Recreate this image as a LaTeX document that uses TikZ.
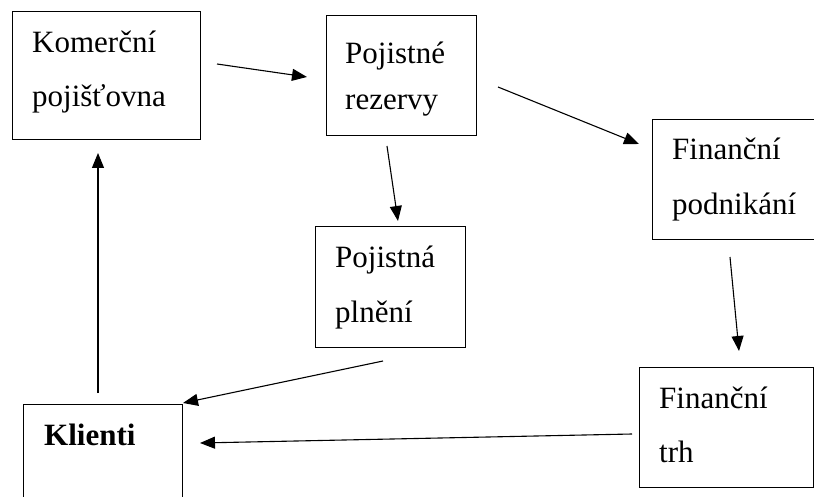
\documentclass[tikz,border=0pt]{standalone}
\usepackage{fontspec}
\setmainfont{Liberation Serif}
\usetikzlibrary{arrows.meta}
\begin{document}
\begin{tikzpicture}[x=1pt,y=-1pt,
  boxline/.style={draw=black,line width=1pt},
  lbl/.style={anchor=base west,inner sep=0pt,font=\fontsize{31}{31}\selectfont},
  conn/.style={draw=black,line width=1.1pt,-{Triangle[length=15pt,width=12pt]}}]
\useasboundingbox (0,0) rectangle (814,497);
\clip (0,0) rectangle (814,497);
% boxes
\path[boxline] (12,12) rectangle (200,140);
\path[boxline] (326,16) rectangle (476,136);
\path[boxline] (652,120) rectangle (830,240);
\path[boxline] (315,227) rectangle (465,347);
\path[boxline] (639,367) rectangle (813,487);
\path[boxline] (23,404) rectangle (182,520);
% texts
\node[lbl] (kom1) at (32,53) {Komerční};
\node[lbl] (kom2) at (32,107) {pojišťovna};
\node[lbl] (rez1) at (345,64) {Pojistné};
\node[lbl] (rez2) at (345,110) {rezervy};
\node[lbl] (fin1) at (672,160) {Finanční};
\node[lbl] (fin2) at (672,215) {podnikání};
\node[lbl] (pln1) at (335,268) {Pojistná};
\node[lbl] (pln2) at (335,322) {plnění};
\node[lbl] (trh1) at (659,408) {Finanční};
\node[lbl] (trh2) at (659,462) {trh};
\node[lbl,font=\fontsize{31}{31}\selectfont\bfseries] (kli) at (44,445) {Klienti};
% connector ends
\coordinate (a1s) at (217,64);  \coordinate (a1e) at (307,77);
\coordinate (a2s) at (387,146); \coordinate (a2e) at (398,221);
\coordinate (a3s) at (498,87);  \coordinate (a3e) at (639,144);
\coordinate (a4s) at (730,257); \coordinate (a4e) at (739,351);
\coordinate (a5s) at (383,361); \coordinate (a5e) at (183,403);
\coordinate (a6s) at (632,434); \coordinate (a6e) at (200,443);
\coordinate (a7s) at (98,393);  \coordinate (a7e) at (98,153);
\draw[conn] (a1s) -- (a1e);
\draw[conn] (a2s) -- (a2e);
\draw[conn] (a3s) -- (a3e);
\draw[conn] (a4s) -- (a4e);
\draw[conn] (a5s) -- (a5e);
\draw[conn] (a6s) -- (a6e);
\draw[conn] (a7s) -- (a7e);
\end{tikzpicture}
\end{document}
